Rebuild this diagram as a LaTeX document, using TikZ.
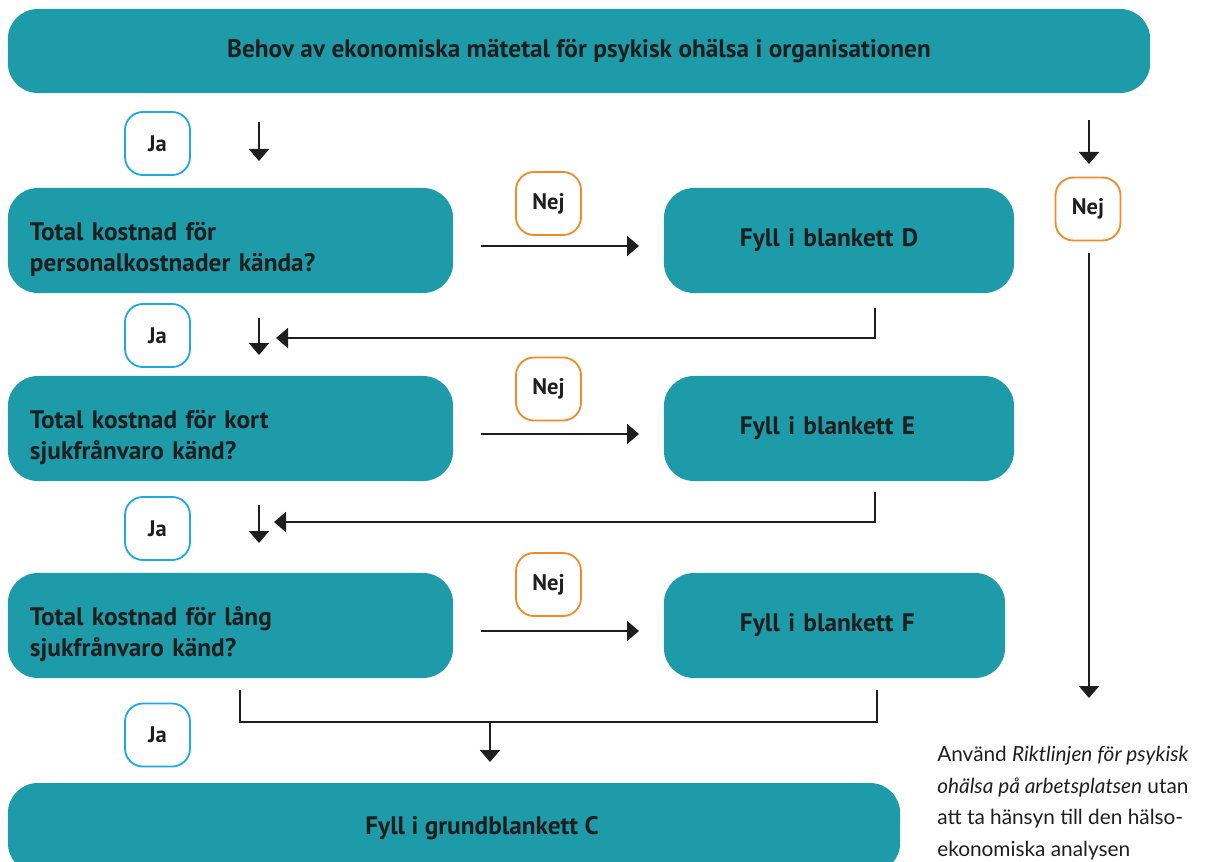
\documentclass[tikz,border=0pt]{standalone}
\usepackage{fontspec}
\setmainfont{PT Sans}
\newfontfamily\notefont{Lato}
\usetikzlibrary{arrows.meta,calc}
\usetikzlibrary{positioning}
\definecolor{teal}{RGB}{30,155,168}
\definecolor{jablue}{RGB}{30,168,228}
\definecolor{nejorange}{RGB}{240,138,42}
\definecolor{ink}{RGB}{30,30,30}
\tikzstyle{line}=[-, line width=1.5pt, draw=ink]
\tikzstyle{flow}=[line, -{Triangle[width=5mm,length=3mm]}]
\tikzstyle{stepbox}=[rectangle, fill=teal, text=ink, rounded corners=0.75cm,
		inner sep=0pt, font=\bfseries\fontsize{18}{22}\selectfont]
\tikzstyle{question}=[stepbox, minimum width=11.125cm, minimum height=2.625cm,
		inner xsep=0.55cm, text width=10.025cm, align=left]
\tikzstyle{form}=[stepbox, minimum height=2.625cm, inner xsep=1.9cm,
		align=left]
\tikzstyle{answer}=[rectangle, draw, line width=1.3pt, fill=white, text=ink,
		rounded corners=0.45cm, minimum width=1.625cm, minimum height=1.575cm,
		font=\bfseries\fontsize{16}{20}\selectfont]
\tikzstyle{ja}=[answer, draw=jablue]
\tikzstyle{nej}=[answer, draw=nejorange]
\newcommand{\qstrut}{\rule{0pt}{0.9cm}}

\begin{document}
\begin{tikzpicture}[x=0.025cm, y=-0.025cm]

  \useasboundingbox (0,0) rectangle (1208,861);
  \clip (0,0) rectangle (1208,861);

    \node (Top) [stepbox, minimum width=28.55cm, minimum height=2.1cm]
    at (579,51) {Behov av ekonomiska mätetal för psykisk ohälsa i organisationen};

    % vanster kolumn
    \node (Q1) [question] at (230.5,240.5) {\qstrut Total kostnad för\\personalkostnader kända?};
    \node (Q2) [question] at (230.5,428.5) {\qstrut Total kostnad för kort\\sjukfrånvaro känd?};
    \node (Q3) [question] at (230.5,625.5) {\qstrut Total kostnad för lång\\sjukfrånvaro känd?};

    % blanketter
    \node (BlD) [form, text width=4.95cm] at (839,240.5) {Fyll i blankett D};
    \node (BlE) [form, text width=4.95cm] at (839,428.5) {Fyll i blankett E};
    \node (BlF) [form, text width=4.725cm] at (834.5,625.5) {Fyll i blankett F};
    \node (BlC) [stepbox, minimum width=22.3cm, minimum height=2.25cm]
    at (454,828) {\hspace*{1.4cm}Fyll i grundblankett C};

    % ja / nej
    \node (Ja1) [ja] at (157.5,143.5) {Ja};
    \node (Ja2) [ja] at (157.5,335.5) {Ja};
    \node (Ja3) [ja] at (157.5,528.5) {Ja};
    \node (Ja4) [ja] at (157.5,735) {Ja};
    \node (Nej1) [nej] at (548.5,203.5) {Nej};
    \node (Nej2) [nej] at (548.5,389) {Nej};
    \node (Nej3) [nej] at (548.5,584.5) {Nej};
    \node (Nej0) [nej] at (1088,209) {Nej};

    \node (Note) [anchor=north west, inner sep=0pt, text=ink, align=left,
    font=\notefont\fontsize{14.8}{22.4}\selectfont] at (937,746) {%
      Använd \textit{Riktlinjen för psykisk}\\
      \textit{ohälsa på arbetsplatsen} utan\\
      att ta hänsyn till den hälso-\\
      ekonomiska analysen};

    % pilar
    \coordinate (a1) at (259,122);   \coordinate (b1) at (259,161);
    \coordinate (a2) at (259,318);   \coordinate (b2) at (259,355);
    \coordinate (a3) at (259,505);   \coordinate (b3) at (259,543);
    \coordinate (r0) at (1089,120);  \coordinate (s0) at (1089,164);
    \coordinate (r1) at (1089,253);  \coordinate (s1) at (1089,698);
    \coordinate (h1) at (481,246);   \coordinate (k1) at (639,246);
    \coordinate (h2) at (481,434);   \coordinate (k2) at (639,434);
    \coordinate (h3) at (481,631);   \coordinate (k3) at (639,631);
    \coordinate (dD) at (875,308);   \coordinate (eD) at (276,338);
    \coordinate (dE) at (875,492);   \coordinate (eE) at (274,522);
    \coordinate (jL) at (240,690);   \coordinate (jR) at (877,690);
    \coordinate (jM) at (490,722);   \coordinate (jC) at (490,762);

    \draw [flow] (a1) -- (b1);
    \draw [flow] (a2) -- (b2);
    \draw [flow] (a3) -- (b3);
    \draw [flow] (r0) -- (s0);
    \draw [flow] (r1) -- (s1);
    \draw [flow] (h1) -- (k1);
    \draw [flow] (h2) -- (k2);
    \draw [flow] (h3) -- (k3);
    \draw [flow] (dD) |- (eD);
    \draw [flow] (dE) |- (eE);
    \draw [line] (jL) |- (jM) -| (jR);
    \draw [flow] (jM) -- (jC);

\end{tikzpicture}
\end{document}
